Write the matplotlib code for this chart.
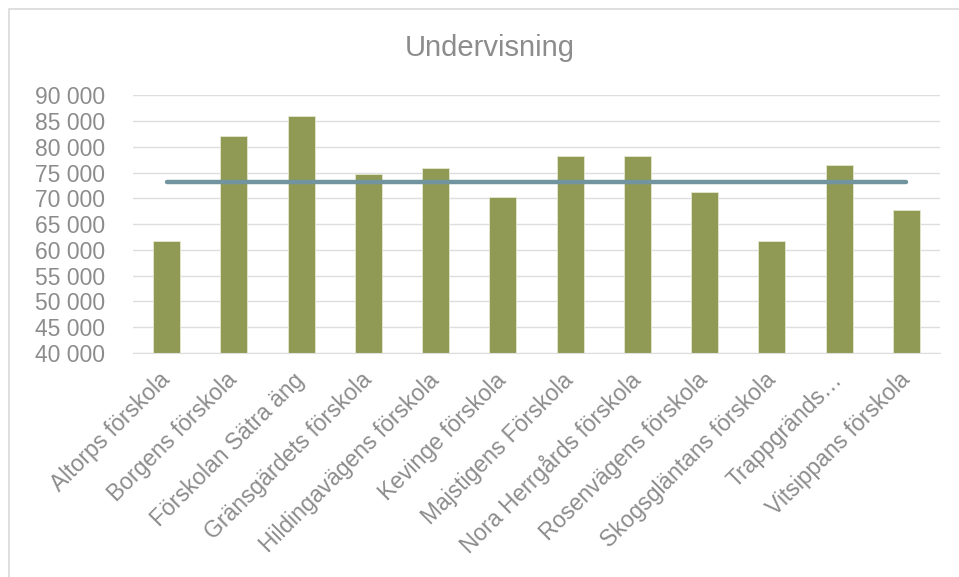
import numpy as np
import matplotlib.pyplot as plt
from matplotlib.patches import Rectangle
from matplotlib.ticker import FuncFormatter

schools = ["Altorps förskola", "Borgens förskola", "Förskolan Sätra äng",
           "Gränsgärdets förskola", "Hildingavägens förskola", "Kevinge förskola",
           "Majstigens Förskola", "Nora Herrgårds förskola", "Rosenvägens förskola",
           "Skogsgläntans förskola", "Trappgränds…", "Vitsippans förskola"]
values = [61700, 82100, 86000, 74800, 75900, 70200,
          78200, 78300, 71300, 61700, 76400, 67800]
average = [73200] * len(schools)

grey = '#8C8C8C'
plt.rcParams['font.family'] = ['Liberation Sans', 'DejaVu Sans']

fig = plt.figure(figsize=(9.59, 5.77), dpi=100)
fig.patches.append(Rectangle((9 / 959, -0.1), 1.2, 1 - 9 / 577 + 0.1,
                             transform=fig.transFigure, fill=False,
                             edgecolor='#D9D9D9', lw=1.2))
ax = fig.add_axes([133 / 959, 1 - 353 / 577, (940 - 133) / 959, (353 - 95.3) / 577])

x = np.arange(len(schools))
ax.bar(x, values, width=0.4, color='#919A55', edgecolor='#E4E8D0', lw=0.6, zorder=2)
ax.plot(x, average, color='#71949E', lw=3.2, solid_capstyle='round', zorder=3)

ax.set_xlim(-0.5, len(schools) - 0.5)
ax.set_ylim(40000, 90000)
ax.set_yticks(np.arange(40000, 90001, 5000))
ax.yaxis.set_major_formatter(FuncFormatter(lambda v, p: f"{int(v):,}".replace(",", " ")))
ax.grid(axis='y', color='#DEDEDE', lw=1, zorder=0)
for s in ['top', 'right', 'left']:
    ax.spines[s].set_visible(False)
ax.spines['bottom'].set_color('#DEDEDE')
ax.tick_params(axis='both', length=0, labelsize=16.5, labelcolor=grey)
ax.tick_params(axis='y', pad=20)
ax.set_xticks(x)
ax.set_xticklabels(schools, rotation=45, ha='right', va='center', rotation_mode='anchor')
ax.tick_params(axis='x', pad=17)

fig.text(490 / 959, 1 - 48 / 577, "Undervisning", ha='center', va='center',
         fontsize=21, color=grey)

fig.savefig('out.png', dpi=100)
